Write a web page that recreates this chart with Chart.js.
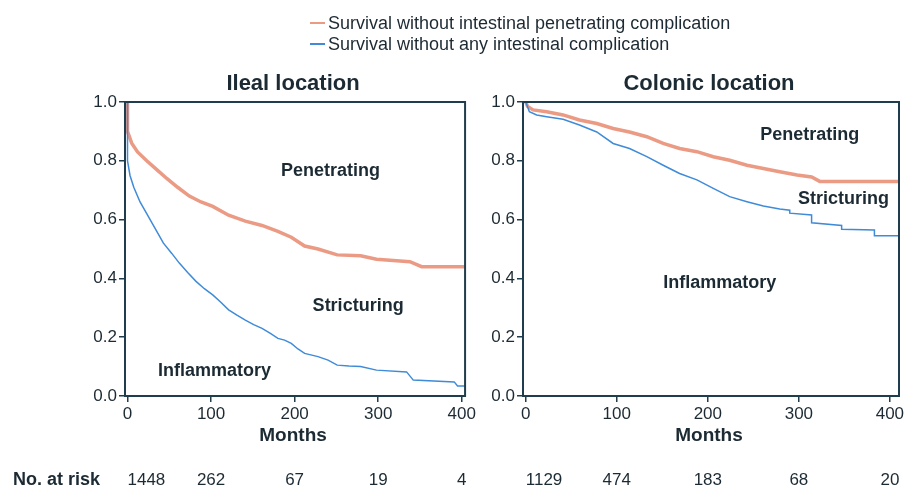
<!DOCTYPE html>
<html>
<head>
<meta charset="utf-8">
<script src="https://cdn.jsdelivr.net/npm/chart.js@4/dist/chart.umd.min.js"></script>
<style>
  html, body { margin: 0; padding: 0; background: #fff; }
  #page { position: relative; width: 908px; height: 489px; overflow: hidden; font-family: "Liberation Sans", Arial, Helvetica, sans-serif; color: #1c2a33; }
  #leftChart { position: absolute; left: 0; top: 0; }
  #rightChart { position: absolute; left: 478px; top: 0; }
  .leg { position: absolute; left: 310px; font-size: 18px; line-height: 20px; white-space: nowrap; }
  .leg span { display: inline-block; width: 15px; height: 2px; vertical-align: middle; margin-right: 3px; position: relative; top: -1px; }
</style>
</head>
<body>
<div id="page">
  <canvas id="leftChart" width="478" height="489"></canvas>
  <canvas id="rightChart" width="430" height="489"></canvas>
  <div class="leg" style="top:13px"><span style="background:#eb9a84"></span>Survival without intestinal penetrating complication</div>
  <div class="leg" style="top:34px"><span style="background:#3f8bd8"></span>Survival without any intestinal complication</div>
</div>
<script>
// Ileal location - survival without penetrating complication
const ilealPenMonths = [0, 0, 5, 12, 23, 35, 47, 60, 74, 88, 102, 121, 141, 161, 180, 196, 212, 228, 251, 279, 298, 338, 352, 404];
const ilealPenValues = [1.0, 0.90, 0.86, 0.83, 0.80, 0.77, 0.74, 0.71, 0.68, 0.66, 0.645, 0.615, 0.595, 0.58, 0.56, 0.54, 0.51, 0.50, 0.48, 0.477, 0.465, 0.457, 0.44, 0.44];

// Ileal location - survival without any complication
const ilealAnyMonths = [0, 0, 3, 7.5, 15, 23, 33, 43, 53, 62, 72, 82, 92, 102, 112, 121, 131, 141, 151, 161, 171, 180, 188, 196, 204, 212, 228, 240, 251, 265, 279, 298, 334, 342, 391, 395, 404];
const ilealAnyValues = [1.0, 0.80, 0.75, 0.71, 0.66, 0.62, 0.57, 0.52, 0.485, 0.452, 0.42, 0.39, 0.365, 0.344, 0.318, 0.293, 0.275, 0.258, 0.243, 0.23, 0.213, 0.196, 0.19, 0.179, 0.16, 0.145, 0.134, 0.122, 0.105, 0.102, 0.10, 0.088, 0.082, 0.054, 0.048, 0.034, 0.034];

// Colonic location - survival without penetrating complication
const colonPenMonths = [0, 2, 8, 23, 41, 59, 78, 96, 114, 133, 151, 169, 188, 206, 224, 243, 261, 279, 298, 314, 323, 410];
const colonPenValues = [1.0, 0.985, 0.973, 0.967, 0.956, 0.939, 0.927, 0.91, 0.898, 0.882, 0.859, 0.842, 0.831, 0.814, 0.802, 0.785, 0.774, 0.763, 0.752, 0.745, 0.73, 0.73];

// Colonic location - survival without any complication
const colonAnyMonths = [0, 4, 12, 23, 41, 59, 78, 96, 114, 133, 151, 169, 188, 206, 224, 243, 261, 279, 290, 290, 314, 314, 347, 347, 383, 383, 410];
const colonAnyValues = [1.0, 0.967, 0.956, 0.95, 0.941, 0.922, 0.898, 0.859, 0.842, 0.814, 0.785, 0.757, 0.735, 0.706, 0.678, 0.661, 0.646, 0.636, 0.632, 0.622, 0.616, 0.589, 0.58, 0.567, 0.565, 0.545, 0.545];

const xTicks = [0, 100, 200, 300, 400];
const yTicks = [0, 0.2, 0.4, 0.6, 0.8, 1.0];

const ilealAtRisk = ['1448', '262', '67', '19', '4'];
const colonAtRisk = ['1129', '474', '183', '68', '20'];

// region labels: [text, month, survival]
const ilealLabels = [['Penetrating', 243, 0.765], ['Stricturing', 276, 0.306], ['Inflammatory', 104, 0.085]];
const colonLabels = [['Penetrating', 312, 0.888], ['Stricturing', 349, 0.67], ['Inflammatory', 213, 0.384]];

const FONT = '"Liberation Sans", Arial, Helvetica, sans-serif';
const TEXT = '#1c2a33';
const AXIS = '#1f3d4d';
const RED = '#eb9a84';
const BLUE = '#3f8bd8';

function toPoints(xs, ys) {
    return xs.map((x, i) => ({ x: x, y: ys[i] }));
}

// draws frame, title, region labels, "Months" and the at-risk row
const panelDecor = {
    id: 'panelDecor',
    afterDraw(chart, args, opts) {
        const ctx = chart.ctx;
        const a = chart.chartArea;
        const xs = chart.scales.x, ys = chart.scales.y;
        ctx.save();
        ctx.strokeStyle = AXIS;
        ctx.lineWidth = 2;
        ctx.strokeRect(a.left, a.top, a.right - a.left, a.bottom - a.top);

        const mid = (a.left + a.right) / 2;
        ctx.fillStyle = TEXT;
        ctx.textAlign = 'center';
        ctx.textBaseline = 'middle';
        ctx.font = 'bold 22px ' + FONT;
        ctx.fillText(opts.title, mid - 2, 84);
        ctx.font = 'bold 19px ' + FONT;
        ctx.fillText('Months', mid - 2, 436);

        ctx.font = 'bold 18px ' + FONT;
        opts.labels.forEach(l => {
            ctx.fillText(l[0], xs.getPixelForValue(l[1]), ys.getPixelForValue(l[2]));
        });

        ctx.font = '17px ' + FONT;
        opts.atRisk.forEach((n, i) => {
            const px = xs.getPixelForValue(xTicks[i]);
            ctx.textAlign = i === 0 ? 'left' : 'center';
            ctx.fillText(n, i === 0 ? px : px, 480);
        });
        if (opts.rowLabel) {
            ctx.textAlign = 'left';
            ctx.font = 'bold 18px ' + FONT;
            ctx.fillText('No. at risk', 13, 480);
        }
        ctx.restore();
    }
};

function makePanel(id, cfg) {
    const ctx = document.getElementById(id).getContext('2d');
    return new Chart(ctx, {
        type: 'line',
        data: {
            datasets: [{
                label: 'Survival without any intestinal complication',
                data: toPoints(cfg.anyMonths, cfg.anyValues),
                borderColor: BLUE,
                borderWidth: 1.5,
                pointRadius: 0,
                tension: 0,
                fill: false
            }, {
                label: 'Survival without intestinal penetrating complication',
                data: toPoints(cfg.penMonths, cfg.penValues),
                borderColor: RED,
                borderWidth: 3.5,
                pointRadius: 0,
                tension: 0,
                fill: false
            }]
        },
        options: {
            responsive: false,
            animation: false,
            devicePixelRatio: 1,
            layout: { padding: { left: 0, right: 9, top: 102, bottom: 0 } },
            plugins: {
                legend: { display: false },
                tooltip: { enabled: false },
                panelDecor: { title: cfg.title, labels: cfg.labels, atRisk: cfg.atRisk, rowLabel: cfg.rowLabel }
            },
            scales: {
                x: {
                    type: 'linear',
                    min: -3,
                    max: cfg.xMax,
                    afterBuildTicks: s => { s.ticks = xTicks.map(v => ({ value: v })); },
                    afterFit: s => { s.height = 93; },
                    ticks: { color: TEXT, font: { family: FONT, size: 17 }, padding: 2, maxRotation: 0 },
                    grid: { drawOnChartArea: false, tickLength: 6, color: AXIS, lineWidth: 1.5 },
                    border: { color: AXIS, width: 2 }
                },
                y: {
                    type: 'linear',
                    min: 0,
                    max: 1,
                    afterBuildTicks: s => { s.ticks = yTicks.map(v => ({ value: v })); },
                    afterFit: s => { s.width = cfg.yWidth; },
                    ticks: { color: TEXT, font: { family: FONT, size: 17 }, padding: 2, callback: v => Number(v).toFixed(1) },
                    grid: { drawOnChartArea: false, tickLength: 6, color: AXIS, lineWidth: 1.5 },
                    border: { color: AXIS, width: 2 }
                }
            }
        },
        plugins: [panelDecor]
    });
}

makePanel('leftChart', {
    title: 'Ileal location',
    penMonths: ilealPenMonths, penValues: ilealPenValues,
    anyMonths: ilealAnyMonths, anyValues: ilealAnyValues,
    labels: ilealLabels, atRisk: ilealAtRisk, rowLabel: true,
    xMax: 404, yWidth: 125
});

makePanel('rightChart', {
    title: 'Colonic location',
    penMonths: colonPenMonths, penValues: colonPenValues,
    anyMonths: colonAnyMonths, anyValues: colonAnyValues,
    labels: colonLabels, atRisk: colonAtRisk, rowLabel: false,
    xMax: 410, yWidth: 45
});
</script>
</body>
</html>
